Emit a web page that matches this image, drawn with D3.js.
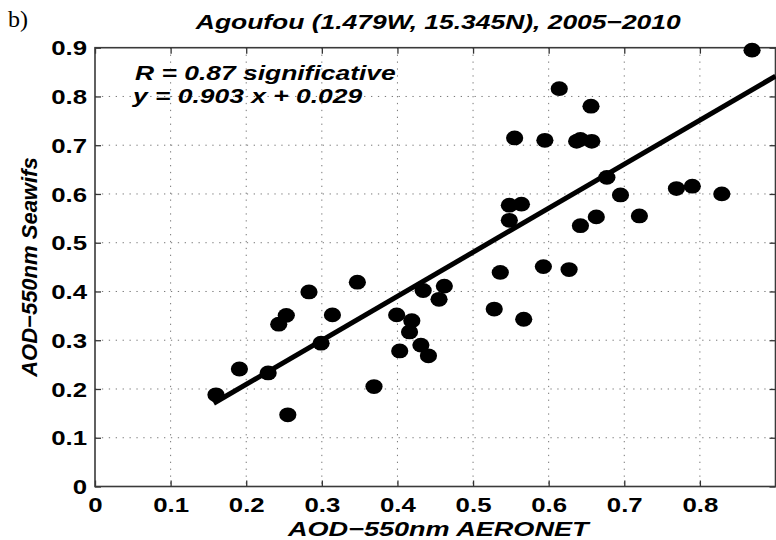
<!DOCTYPE html>
<html>
<head>
<meta charset="utf-8">
<script src="https://cdnjs.cloudflare.com/ajax/libs/d3/7.8.5/d3.min.js"></script>
<style>
    body { margin: 0; background: #fff; }
    svg { display: block; }
    text { font-family: 'Liberation Sans', Arial, Helvetica, sans-serif; font-weight: bold; fill: #000; }
    .label { font-style: italic; }
    .grid line { stroke: #777; stroke-width: 1; stroke-dasharray: 1.3,5.6; }
    .axis line { stroke: #333; stroke-width: 1.3; }
    .frame { fill: none; stroke: #3a3a3a; stroke-width: 1.6; }
</style>
</head>
<body>
<svg width="776" height="540"></svg>
<script>
// Monthly AOD pairs, AERONET (x) against Seawifs (y)
var aeronet = [0.160, 0.191, 0.229, 0.255, 0.243, 0.253, 0.283, 0.314, 0.299, 0.347, 0.369,
    0.614, 0.656, 0.555, 0.595, 0.637, 0.642, 0.657, 0.677, 0.695, 0.769, 0.790, 0.829,
    0.548, 0.564, 0.548, 0.663, 0.642, 0.720, 0.536, 0.593, 0.627, 0.528, 0.567,
    0.434, 0.462, 0.455, 0.399, 0.419, 0.416, 0.431, 0.403, 0.441, 0.869];
var seawifs = [0.188, 0.241, 0.233, 0.147, 0.333, 0.351, 0.399, 0.352, 0.294, 0.419, 0.205,
    0.816, 0.780, 0.715, 0.710, 0.708, 0.712, 0.708, 0.634, 0.598, 0.611, 0.616, 0.600,
    0.577, 0.579, 0.546, 0.553, 0.535, 0.555, 0.439, 0.451, 0.445, 0.364, 0.343,
    0.402, 0.411, 0.384, 0.352, 0.340, 0.317, 0.290, 0.278, 0.268, 0.895];

var xTicks = [0, 0.1, 0.2, 0.3, 0.4, 0.5, 0.6, 0.7, 0.8];
var yTicks = [0, 0.1, 0.2, 0.3, 0.4, 0.5, 0.6, 0.7, 0.8, 0.9];

// Linear fit y = a x + b, drawn over this AERONET range
var fitSlope = 0.903;
var fitIntercept = 0.029;
var fitRange = [0.157, 0.9];

var panelTag = 'b)';
var titleText = 'Agoufou (1.479W, 15.345N), 2005\u22122010';
var statLines = ['R = 0.87 significative', 'y = 0.903 x + 0.029'];
var xLabel = 'AOD\u2212550nm AERONET';
var yLabel = 'AOD\u2212550nm Seawifs';

var svg = d3.select('svg');
var svgWidth = +svg.attr('width');
var svgHeight = +svg.attr('height');

var padding = {t: 47.7, r: 0.5, b: 53.5, l: 95};
var chartWidth = svgWidth - padding.l - padding.r;
var chartHeight = svgHeight - padding.t - padding.b;

// The text of the original figure is wide, so it is stretched horizontally
var stretch = 1.29;

var xScale = d3.scaleLinear().domain([0, 0.9]).range([0, chartWidth]);
var yScale = d3.scaleLinear().domain([0, 0.9]).range([chartHeight, 0]);

var chartG = svg.append('g')
    .attr('transform', 'translate(' + [padding.l, padding.t] + ')');

// Dotted grid
var grid = chartG.append('g').attr('class', 'grid');
grid.selectAll('.vgrid')
    .data(xTicks.filter(function(d) { return d > 0; }))
    .enter().append('line')
    .attr('x1', function(d) { return xScale(d); })
    .attr('x2', function(d) { return xScale(d); })
    .attr('y1', 0)
    .attr('y2', chartHeight);
grid.selectAll('.hgrid')
    .data(yTicks.filter(function(d) { return d > 0 && d < 0.9; }))
    .enter().append('line')
    .attr('x1', 0)
    .attr('x2', chartWidth)
    .attr('y1', function(d) { return yScale(d); })
    .attr('y2', function(d) { return yScale(d); });

// Ticks point inwards on all four sides, labels only bottom and left
chartG.append('g')
    .attr('class', 'axis')
    .attr('transform', 'translate(0,' + chartHeight + ')')
    .call(d3.axisBottom(xScale).tickValues(xTicks).tickSize(-6).tickPadding(11).tickFormat(String));
chartG.append('g')
    .attr('class', 'axis')
    .call(d3.axisTop(xScale).tickValues(xTicks).tickSize(-6).tickFormat(''));
var yAxisG = chartG.append('g')
    .attr('class', 'axis')
    .call(d3.axisLeft(yScale).tickValues(yTicks).tickSize(-6).tickFormat(String));
chartG.append('g')
    .attr('class', 'axis')
    .attr('transform', 'translate(' + chartWidth + ',0)')
    .call(d3.axisRight(yScale).tickValues(yTicks).tickSize(-6).tickFormat(''));

chartG.selectAll('.axis .domain').remove();
chartG.selectAll('.axis text')
    .attr('font-size', 20)
    .attr('font-family', null)
    .attr('transform', 'scale(' + stretch + ',1)');
yAxisG.selectAll('text')
    .attr('x', -8 / stretch)
    .attr('dy', '0.36em');

chartG.append('rect')
    .attr('class', 'frame')
    .attr('width', chartWidth)
    .attr('height', chartHeight);

// Fit line
chartG.append('line')
    .attr('x1', xScale(fitRange[0]))
    .attr('y1', yScale(fitSlope * fitRange[0] + fitIntercept))
    .attr('x2', xScale(fitRange[1]))
    .attr('y2', yScale(fitSlope * fitRange[1] + fitIntercept))
    .attr('stroke', '#000')
    .attr('stroke-width', 5);

// Points
chartG.selectAll('.dot')
    .data(d3.range(aeronet.length))
    .enter().append('ellipse')
    .attr('class', 'dot')
    .attr('cx', function(i) { return xScale(aeronet[i]); })
    .attr('cy', function(i) { return yScale(seawifs[i]); })
    .attr('rx', 8.6)
    .attr('ry', 7.4)
    .attr('fill', '#000');

// Stretched text helper
function addText(x, y, str, anchor, size) {
    return svg.append('text')
        .attr('class', 'label')
        .attr('transform', 'translate(' + [x, y] + ') scale(' + stretch + ',1)')
        .attr('text-anchor', anchor)
        .attr('font-size', size)
        .text(str);
}

addText(padding.l + chartWidth / 2 + 3, 29, titleText, 'middle', 20.5);
addText(135, 80, statLines[0], 'start', 20.5);
addText(133, 103, statLines[1], 'start', 20.5);
addText(padding.l + chartWidth / 2 + 3, 536, xLabel, 'middle', 21);

svg.append('text')
    .attr('class', 'label')
    .attr('transform', 'translate(' + [37, padding.t + chartHeight / 2] + ') rotate(-90)')
    .attr('text-anchor', 'middle')
    .attr('font-size', 22)
    .text(yLabel);

svg.append('text')
    .attr('x', 8)
    .attr('y', 27)
    .attr('font-size', 24)
    .style('font-family', "'Liberation Serif', 'Times New Roman', serif")
    .style('font-weight', 'normal')
    .text(panelTag);
</script>
</body>
</html>
